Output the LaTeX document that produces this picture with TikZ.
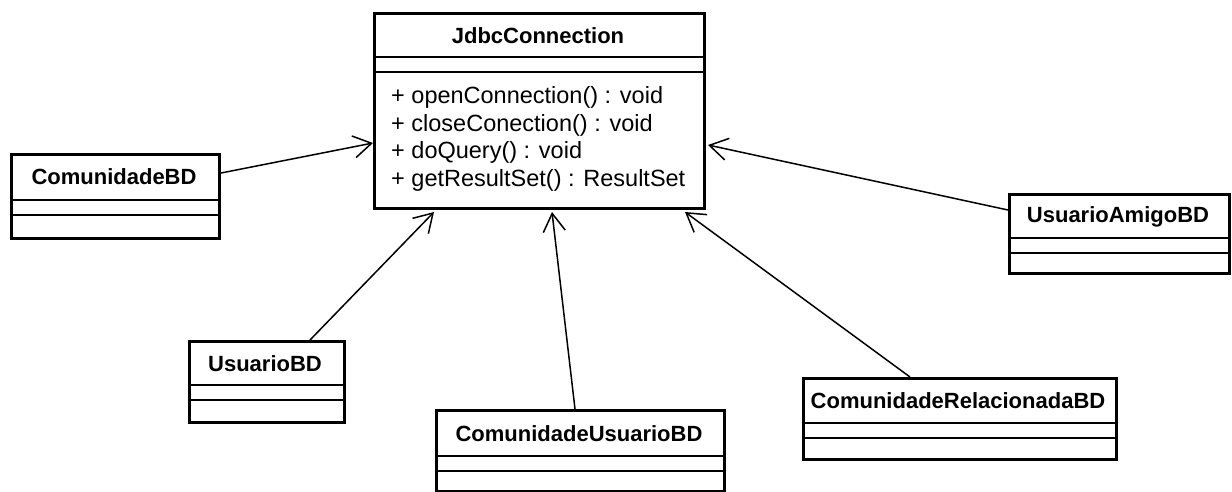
\documentclass[tikz,border=0pt]{standalone}
\usepackage{fontspec}
\setmainfont{Liberation Sans}
\usetikzlibrary{arrows.meta,calc}

\tikzset{
  classbox/.style={draw=black, line width=3pt, fill=white, anchor=north west, inner sep=0pt},
  sepline/.style={line width=1.6pt},
  classname/.style={font=\fontsize{22}{25}\selectfont\bfseries, inner sep=0pt},
  member/.style={font=\fontsize{23.5}{27}\selectfont, inner sep=0pt, anchor=west},
  assoc/.style={line width=1.5pt, -{Straight Barb[length=18pt, width=22pt, line width=1.5pt]}},
}

% a class box: name, left, top, right, bottom, first and second separator (y)
\newcommand{\umlbox}[7]{%
  \node[classbox, minimum width=#4-#2, minimum height=#5-#3] (#1) at (#2,#3) {};
  \draw[sepline] (#2,#6) -- (#4,#6);
  \draw[sepline] (#2,#7) -- (#4,#7);
}

\begin{document}
\begin{tikzpicture}[x=1pt, y=-1pt]
  \useasboundingbox (0,0) rectangle (1232,491);

  % central class
  \umlbox{jdbc}{373}{12}{703}{207}{57}{72}
  \node[classname] (jdbcname) at (538,36) {JdbcConnection};
  \node[member] (m1) at (391,97)  {+ openConnection() : void};
  \node[member] (m2) at (391,125) {+ closeConection() : void};
  \node[member] (m3) at (391,152) {+ doQuery() : void};
  \node[member] (m4) at (391,180) {+ getResultSet() : ResultSet};

  % data access classes
  \umlbox{cbd}{10}{153}{218}{237}{200}{215}
  \node[classname] (cbdname) at (114,177) {ComunidadeBD};

  \umlbox{ubd}{188}{340}{343}{421}{385}{400}
  \node[classname] (ubdname) at (265,364) {UsuarioBD};

  \umlbox{cubd}{435}{409}{723}{490}{456}{471}
  \node[classname] (cubdname) at (579,434) {ComunidadeUsuarioBD};

  \umlbox{crbd}{802}{377}{1115}{458}{423}{438}
  \node[classname] (crbdname) at (958,401) {ComunidadeRelacionadaBD};

  \umlbox{uabd}{1008}{193}{1228}{272}{238}{253}
  \node[classname] (uabdname) at (1118,217) {UsuarioAmigoBD};

  % navigable associations towards JdbcConnection
  \draw[assoc] ($(cbd.north east)+(0,20)$) -- ($(jdbc.north west)+(0,131)$);
  \draw[assoc] ($(ubd.north west)+(122,0)$) -- ($(jdbc.south west)+(61,2)$);
  \draw[assoc] ($(cubd.north west)+(140,0)$) -- ($(jdbc.south west)+(179,2)$);
  \draw[assoc] ($(crbd.north west)+(108,0)$) -- ($(jdbc.south east)+(-21,2)$);
  \draw[assoc] ($(uabd.north west)+(0,17)$) -- ($(jdbc.north east)+(2,133)$);
\end{tikzpicture}
\end{document}
